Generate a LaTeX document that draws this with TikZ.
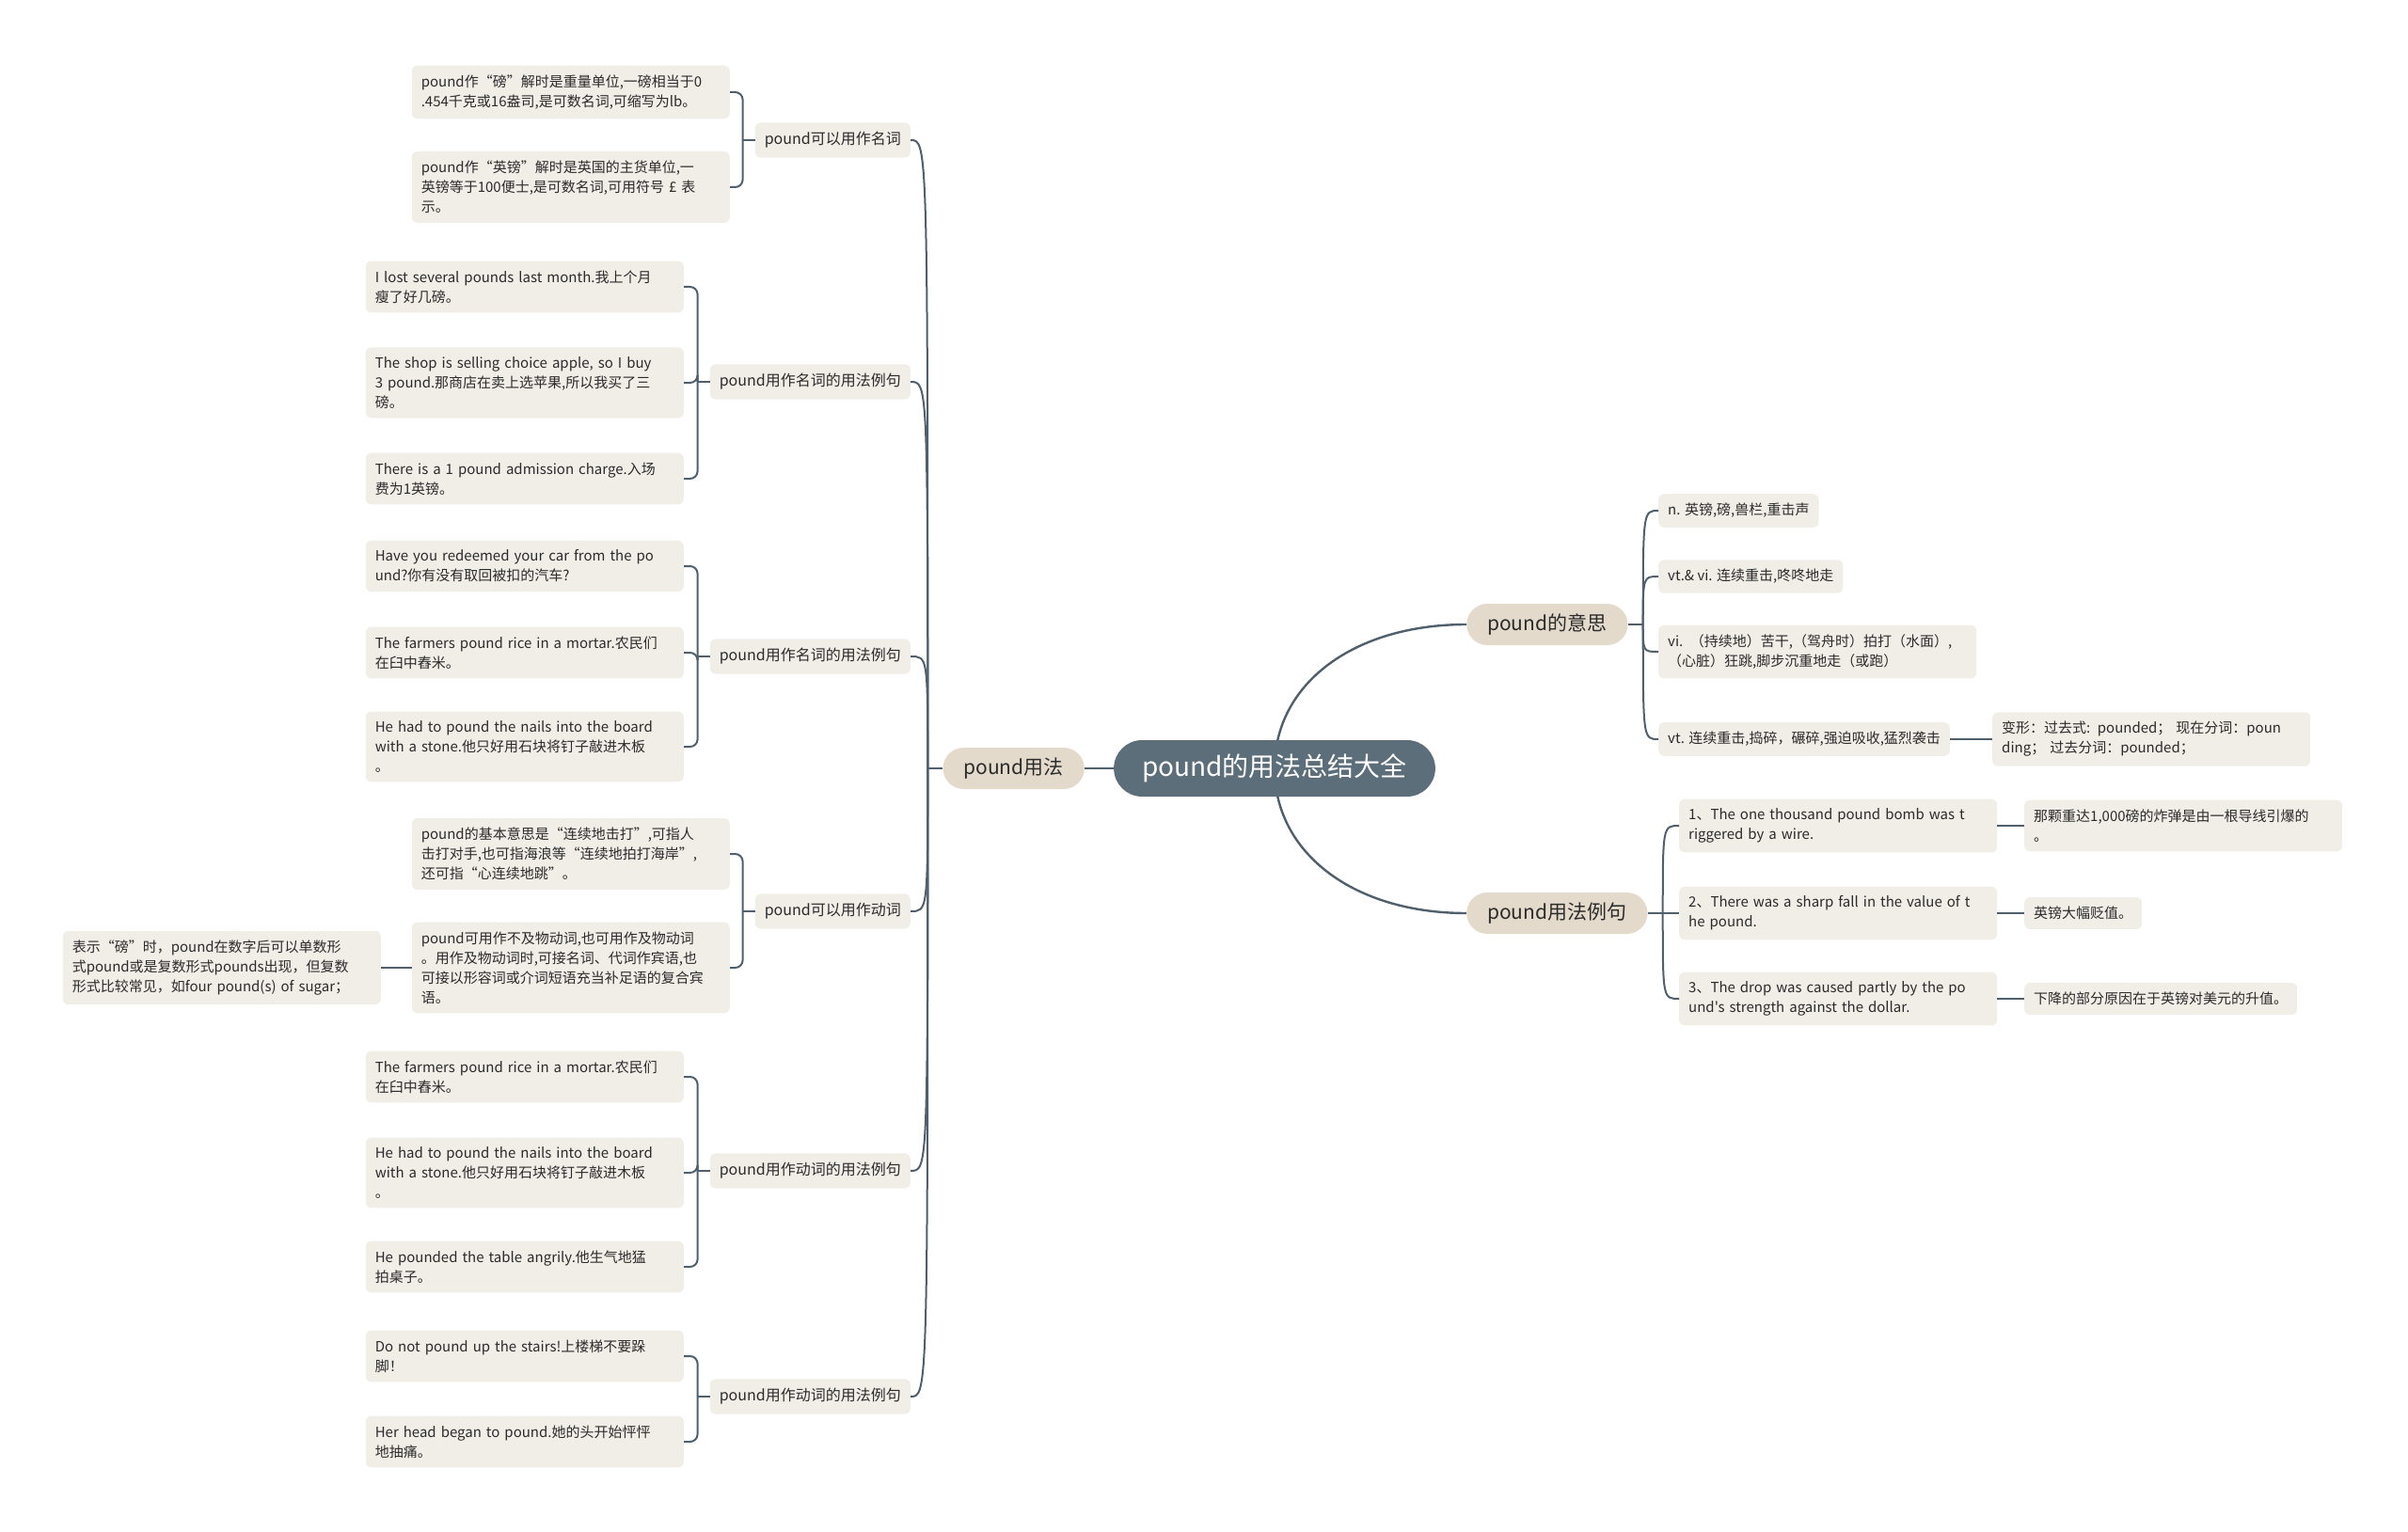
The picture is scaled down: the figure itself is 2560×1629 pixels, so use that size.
\documentclass[tikz,border=0pt]{standalone}
\usepackage{fontspec}
\usepackage{xcolor}
\usepackage{tikz}
\usetikzlibrary{backgrounds}
\newfontfamily\cjk{Noto Sans CJK SC}
\definecolor{rootbg}{HTML}{5C6E7A}
\definecolor{mainbg}{HTML}{E3DACB}
\definecolor{leafbg}{HTML}{F1EEE8}
\definecolor{linec}{HTML}{4F5F6B}
\definecolor{ink}{HTML}{2B2B2B}

\begin{document}
\begin{tikzpicture}[x=1pt, y=-1pt,
  link/.style={draw=linec, line width=2pt},
  leaf/.style={fill=leafbg, rounded corners=6pt, inner xsep=10pt, inner ysep=10pt,
               align=left, text=ink, font=\cjk\fontsize{15}{21}\selectfont},
  leafw/.style={leaf, text width=318pt},
  subbox/.style={leaf, inner xsep=10pt, font=\cjk\fontsize{16}{21}\selectfont},
  mainbox/.style={fill=mainbg, rounded corners=22pt, minimum height=44pt, inner xsep=22pt,
                  text=ink, font=\cjk\fontsize{21}{25}\selectfont},
  rootbox/.style={fill=rootbg, rounded corners=30pt, minimum height=60pt, inner xsep=30pt,
                  text=white, font=\cjk\fontsize{28}{32}\selectfont}]
  \useasboundingbox (0,0) rectangle (2560,1629);

  % centre and first level
  \node[rootbox] (root) at (1355,817) {pound的用法总结大全};
  \node[mainbox, anchor=east] (usage) at (1153,817) {pound用法};
  \node[mainbox, anchor=west] (meaning) at (1559,664) {pound的意思};
  \node[mainbox, anchor=west] (examples) at (1559,971) {pound用法例句};

  % pound用法
  \node[subbox, anchor=east] (noun) at (968,149) {pound可以用作名词};
  \node[subbox, anchor=east] (nouna) at (968,406) {pound用作名词的用法例句};
  \node[subbox, anchor=east] (nounb) at (968,698) {pound用作名词的用法例句};
  \node[subbox, anchor=east] (verb) at (968,969) {pound可以用作动词};
  \node[subbox, anchor=east] (verba) at (968,1245) {pound用作动词的用法例句};
  \node[subbox, anchor=east] (verbb) at (968,1485) {pound用作动词的用法例句};

  \node[leafw, anchor=east] (n1) at (776,98) {pound作“磅”解时是重量单位,一磅相当于0\\.454千克或16盎司,是可数名词,可缩写为lb。};
  \node[leafw, anchor=east] (n2) at (776,199) {pound作“英镑”解时是英国的主货单位,一\\英镑等于100便士,是可数名词,可用符号 £ 表\\示。};

  \node[leafw, anchor=east] (na1) at (727,305) {I lost several pounds last month.我上个月\\瘦了好几磅。};
  \node[leafw, anchor=east] (na2) at (727,407) {The shop is selling choice apple, so I buy\\3 pound.那商店在卖上选苹果,所以我买了三\\磅。};
  \node[leafw, anchor=east] (na3) at (727,509) {There is a 1 pound admission charge.入场\\费为1英镑。};

  \node[leafw, anchor=east] (nb1) at (727,602) {Have you redeemed your car from the po\\und?你有没有取回被扣的汽车?};
  \node[leafw, anchor=east] (nb2) at (727,694) {The farmers pound rice in a mortar.农民们\\在臼中舂米。};
  \node[leafw, anchor=east] (nb3) at (727,794) {He had to pound the nails into the board\\with a stone.他只好用石块将钉子敲进木板\\。};

  \node[leafw, anchor=east] (v1) at (776,908) {pound的基本意思是“连续地击打”,可指人\\击打对手,也可指海浪等“连续地拍打海岸”,\\还可指“心连续地跳”。};
  \node[leafw, anchor=east] (v2) at (776,1029) {pound可用作不及物动词,也可用作及物动词\\。用作及物动词时,可接名词、代词作宾语,也\\可接以形容词或介词短语充当补足语的复合宾\\语。};
  \node[leafw, anchor=east] (vnote) at (405,1029) {表示“磅”时，pound在数字后可以单数形\\式pound或是复数形式pounds出现，但复数\\形式比较常见，如four pound(s) of sugar；};

  \node[leafw, anchor=east] (va1) at (727,1145) {The farmers pound rice in a mortar.农民们\\在臼中舂米。};
  \node[leafw, anchor=east] (va2) at (727,1247) {He had to pound the nails into the board\\with a stone.他只好用石块将钉子敲进木板\\。};
  \node[leafw, anchor=east] (va3) at (727,1347) {He pounded the table angrily.他生气地猛\\拍桌子。};

  \node[leafw, anchor=east] (vb1) at (727,1442) {Do not pound up the stairs!上楼梯不要跺\\脚！};
  \node[leafw, anchor=east] (vb2) at (727,1533) {Her head began to pound.她的头开始怦怦\\地抽痛。};

  % pound的意思
  \node[leaf, anchor=west] (m1) at (1763,543) {n. 英镑,磅,兽栏,重击声};
  \node[leaf, anchor=west] (m2) at (1763,613) {vt.\& vi. 连续重击,咚咚地走};
  \node[leafw, anchor=west] (m3) at (1763,693) {vi. （持续地）苦干,（驾舟时）拍打（水面）,\\（心脏）狂跳,脚步沉重地走（或跑）};
  \node[leaf, anchor=west] (m4) at (1763,786) {vt. 连续重击,捣碎，碾碎,强迫吸收,猛烈袭击};
  \node[leafw, anchor=west] (m4f) at (2118,786) {变形：过去式: pounded； 现在分词：poun\\ding； 过去分词：pounded；};

  % pound用法例句
  \node[leafw, anchor=west] (e1) at (1785,878) {1、The one thousand pound bomb was t\\riggered by a wire.};
  \node[leafw, anchor=west] (e2) at (1785,971) {2、There was a sharp fall in the value of t\\he pound.};
  \node[leafw, anchor=west] (e3) at (1785,1062) {3、The drop was caused partly by the po\\und's strength against the dollar.};
  \node[leafw, anchor=west] (e1c) at (2152,878) {那颗重达1,000磅的炸弹是由一根导线引爆的\\。};
  \node[leaf, anchor=west] (e2c) at (2152,971) {英镑大幅贬值。};
  \node[leaf, anchor=west] (e3c) at (2152,1062) {下降的部分原因在于英镑对美元的升值。};

  \begin{pgfonlayer}{background}
    \draw[link, line width=2.4pt] (root) -- (usage);
    \draw[link, line width=2.4pt] (root.center) .. controls +(0,-90) and +(-120,0) .. (meaning.west);
    \draw[link, line width=2.4pt] (root.center) .. controls +(0,90) and +(-120,0) .. (examples.west);
  \end{pgfonlayer}

  \draw[link] (usage.west) -- ++(-16,0) coordinate (usage-t);
  \foreach \x in {noun,nouna,nounb,verb,verba,verbb}{
    \draw[link] (usage-t) .. controls (usage-t |- \x.east) .. (\x.east);}

  \draw[link] (meaning.east) -- ++(16,0) coordinate (meaning-t);
  \foreach \x in {m1,m2,m3,m4}{
    \draw[link] (meaning-t) .. controls (meaning-t |- \x.west) .. (\x.west);}

  \draw[link] (examples.east) -- ++(16,0) coordinate (examples-t);
  \foreach \x in {e1,e2,e3}{
    \draw[link] (examples-t) .. controls (examples-t |- \x.west) .. (\x.west);}

  % brackets
  \draw[link] (noun.west) -- ++(-13,0) coordinate (noun-b);
  \foreach \x in {n1,n2}{\draw[link, rounded corners=8pt] (noun-b) |- (\x.east);}
  \draw[link] (nouna.west) -- ++(-13,0) coordinate (nouna-b);
  \foreach \x in {na1,na2,na3}{\draw[link, rounded corners=8pt] (nouna-b) |- (\x.east);}
  \draw[link] (nounb.west) -- ++(-13,0) coordinate (nounb-b);
  \foreach \x in {nb1,nb2,nb3}{\draw[link, rounded corners=8pt] (nounb-b) |- (\x.east);}
  \draw[link] (verb.west) -- ++(-13,0) coordinate (verb-b);
  \foreach \x in {v1,v2}{\draw[link, rounded corners=8pt] (verb-b) |- (\x.east);}
  \draw[link] (verba.west) -- ++(-13,0) coordinate (verba-b);
  \foreach \x in {va1,va2,va3}{\draw[link, rounded corners=8pt] (verba-b) |- (\x.east);}
  \draw[link] (verbb.west) -- ++(-13,0) coordinate (verbb-b);
  \foreach \x in {vb1,vb2}{\draw[link, rounded corners=8pt] (verbb-b) |- (\x.east);}

  \draw[link] (v2.west) -- (vnote.east);
  \draw[link] (m4.east) -- (m4f.west);
  \draw[link] (e1.east) -- (e1c.west);
  \draw[link] (e2.east) -- (e2c.west);
  \draw[link] (e3.east) -- (e3c.west);
\end{tikzpicture}
\end{document}
